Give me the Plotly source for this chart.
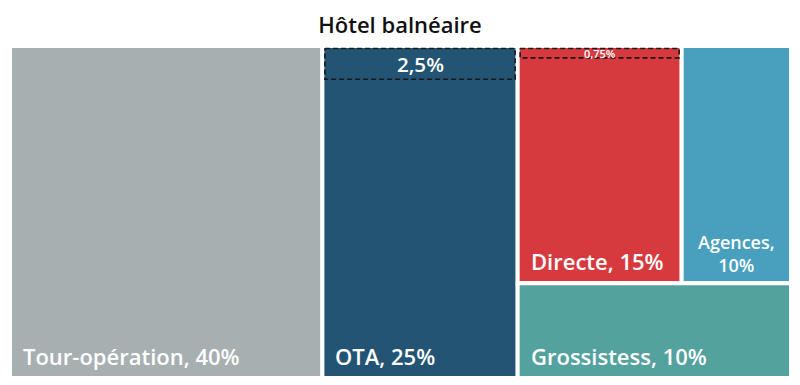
import plotly.graph_objects as go

# ---------------- data ----------------
title_text = "Hôtel balnéaire"
categories = ["Tour-opération", "OTA", "Directe", "Agences", "Grossistess"]
shares = [40, 25, 15, 10, 10]
colors = ["#A8AFB1", "#235473", "#D63A3F", "#48A0BE", "#54A29D"]
sub_parents = ["OTA", "Directe"]
sub_shares = [2.5, 0.75]

# ---------------- layout constants ----------------
FIG_W, FIG_H = 800, 385
ML, MR, MT, MB = 10, 9, 46, 7
PLOT_W = FIG_W - ML - MR
PLOT_H = FIG_H - MT - MB
PX_X = PLOT_W / 100.0   # pixels per x unit
PX_Y = PLOT_H / 100.0   # pixels per y unit
FONT = "Open Sans"

# tiling structure (slice / dice), leaves are category indices
tree = ("x", [0, 1, ("y", [("x", [2, 3]), 4])])


def total(node):
    if isinstance(node, int):
        return shares[node]
    return sum(total(c) for c in node[1])


rects = {}


def tile(node, x0, y0, x1, y1):
    if isinstance(node, int):
        rects[node] = (x0, y0, x1, y1)
        return
    axis, children = node
    t = total(node)
    pos = x0 if axis == "x" else y0
    for c in children:
        f = total(c) / t
        if axis == "x":
            w = (x1 - x0) * f
            tile(c, pos, y0, pos + w, y1)
            pos += w
        else:
            h = (y1 - y0) * f
            tile(c, x0, pos, x1, pos + h)
            pos += h


tile(tree, 0, 0, 100, 100)


def fmt(v):
    s = ("%g" % v).replace(".", ",")
    return s + "%"


fig = go.Figure()
annotations = []

for i, name in enumerate(categories):
    x0, y0, x1, y1 = rects[i]
    fig.add_trace(go.Scatter(
        x=[x0, x1, x1, x0, x0], y=[y0, y0, y1, y1, y0],
        mode="lines", fill="toself", fillcolor=colors[i],
        line=dict(color="white", width=4),
        hoveron="fills", name=name, text=f"{name}, {fmt(shares[i])}",
        hoverinfo="text", showlegend=False))

# dashed sub boxes
for pname, sv in zip(sub_parents, sub_shares):
    i = categories.index(pname)
    x0, y0, x1, y1 = rects[i]
    ix = 2.5 / PX_X
    iy = 2.5 / PX_Y
    by1 = y0 + (y1 - y0) * sv / shares[i]
    fig.add_trace(go.Scatter(
        x=[x0 + ix, x1 - ix, x1 - ix, x0 + ix, x0 + ix],
        y=[y0 + iy, y0 + iy, by1, by1, y0 + iy],
        mode="lines", line=dict(color="#1a1a1a", width=1.6, dash="5px,3px"),
        hoverinfo="skip", showlegend=False))
    hpx = (by1 - y0) * PX_Y
    fs = min(21, max(11, 0.62 * hpx))
    annotations.append(dict(
        x=(x0 + x1) / 2, y=(y0 + iy + by1) / 2, xref="x", yref="y",
        text=fmt(sv), showarrow=False, xanchor="center", yanchor="middle",
        font=dict(family=FONT, size=fs, color="white", weight=600)))

# tile labels
LABEL_FS = 22
for i, name in enumerate(categories):
    x0, y0, x1, y1 = rects[i]
    label = f"{name}, {fmt(shares[i])}"
    wpx = (x1 - x0) * PX_X
    if len(label) * LABEL_FS * 0.52 > wpx - 20:
        annotations.append(dict(
            x=(x0 + x1) / 2, y=y1, xref="x", yref="y",
            text=f"{name},<br>{fmt(shares[i])}",
            showarrow=False, xanchor="center", yanchor="bottom", align="center",
            yshift=4,
            font=dict(family=FONT, size=18, color="white", weight=600)))
    else:
        annotations.append(dict(
            x=x0, y=y1, xref="x", yref="y", text=label, showarrow=False,
            xanchor="left", yanchor="bottom", xshift=11, yshift=5,
            font=dict(family=FONT, size=LABEL_FS, color="white", weight=600)))

fig.update_layout(
    width=FIG_W, height=FIG_H,
    margin=dict(l=ML, r=MR, t=MT, b=MB, pad=0),
    paper_bgcolor="white", plot_bgcolor="white",
    title=dict(text=title_text, x=0.5, xanchor="center", y=1 - 25 / FIG_H,
               yanchor="middle", yref="container",
               font=dict(family=FONT, size=22, color="#111111", weight=600)),
    xaxis=dict(range=[0, 100], visible=False, fixedrange=True),
    yaxis=dict(range=[100, 0], visible=False, fixedrange=True),
    annotations=annotations,
    showlegend=False,
)

fig.write_html("out.html")
